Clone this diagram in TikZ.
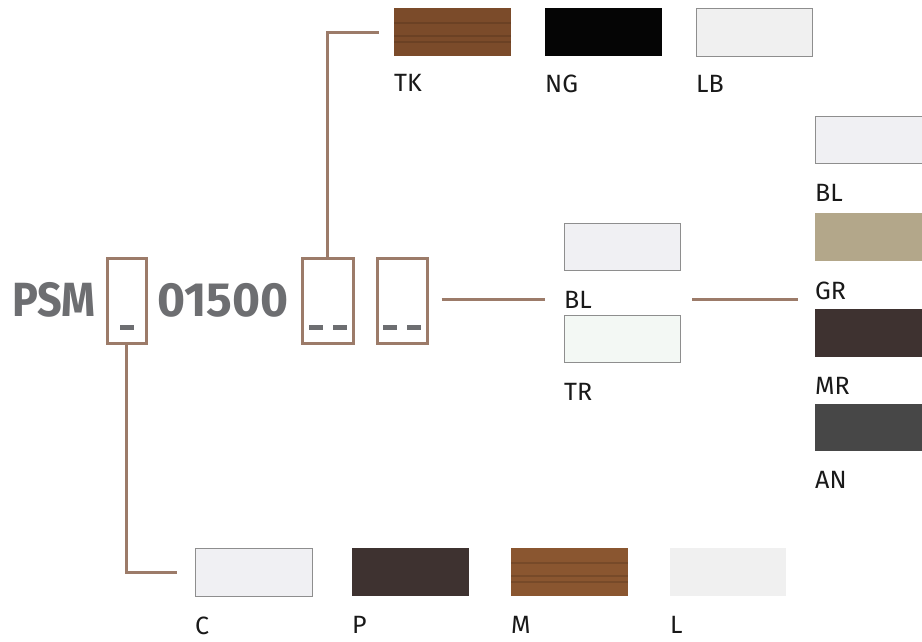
\documentclass[tikz,border=0pt]{standalone}
\usepackage{fontspec}
\setmainfont{Fira Sans}
\usepackage{xcolor}
\usetikzlibrary{positioning}

\definecolor{linkbrown}{HTML}{9C7B69}
\definecolor{codegray}{HTML}{6D6E71}
\definecolor{framegray}{HTML}{8E8E8E}
\definecolor{teak}{HTML}{7B4B2A}
\definecolor{nero}{HTML}{050505}
\definecolor{lightwhite}{HTML}{F0F0F0}
\definecolor{paleblue}{HTML}{F0F0F3}
\definecolor{palegreen}{HTML}{F3F8F4}
\definecolor{greige}{HTML}{B3A78A}
\definecolor{moro}{HTML}{3E3230}
\definecolor{anthracite}{HTML}{474747}
\definecolor{walnut}{HTML}{8A5630}

\begin{document}
\begin{tikzpicture}[x=1pt,y=-1pt,
    swatch/.style={minimum width=117pt,minimum height=48pt,inner sep=0pt,anchor=north west},
    framed/.style={draw=framegray,line width=1pt},
    tag/.style={font=\fontsize{25}{25}\selectfont,inner sep=0pt,text=black!90},
    code/.style={font=\fontsize{48}{48}\bfseries\selectfont,inner sep=0pt,text=codegray,anchor=base west},
    slot/.style={draw=linkbrown,line width=3pt,minimum height=85pt,inner sep=0pt},
    link/.style={draw=linkbrown,line width=3pt},
    grain/.style={line width=2pt,opacity=0.18}]
    \useasboundingbox (0,0) rectangle (922,641);

    % Article code
    \node[code] (psm) at (12,316) {\scalebox{0.9}[1]{PSM}};
    \node[code] (num) at (157,316) {01500};
    \node[slot,minimum width=39pt] (slot1) at (126.5,300.5) {};
    \node[slot,minimum width=51pt] (slot2) at (327.5,300.5) {};
    \node[slot,minimum width=50pt] (slot3) at (402,300.5) {};
    \fill[codegray] ([xshift=-7pt,yshift=15pt]slot1.south) rectangle ++(14pt,5pt);
    \foreach \s in {slot2,slot3} {
        \fill[codegray] ([xshift=-19pt,yshift=15pt]\s.south) rectangle ++(14pt,5pt);
        \fill[codegray] ([xshift=5pt,yshift=15pt]\s.south) rectangle ++(14pt,5pt);
    }

    % Top row
    \node[swatch,fill=teak] (tk) at (394,8) {};
    \node[swatch,fill=nero] (ng) at (545,8) {};
    \node[swatch,framed,fill=lightwhite,minimum width=116pt] (lb) at (696,8) {};
    \node[tag,below right=18pt and 0pt of tk.south west] (tklab) {TK};
    \node[tag,below right=18pt and 0pt of ng.south west] (nglab) {NG};
    \node[tag,below right=18pt and 0pt of lb.south west] (lblab) {LB};

    % Middle column
    \node[swatch,framed,fill=paleblue,minimum width=116pt,minimum height=47pt] (blm) at (564,223) {};
    \node[swatch,framed,fill=palegreen,minimum width=116pt,minimum height=47pt] (tr) at (564,315) {};
    \node[tag,below right=20pt and 0pt of blm.south west] (blmlab) {BL};
    \node[tag,below right=20pt and 0pt of tr.south west] (trlab) {TR};

    % Right column
    \node[swatch,framed,fill=paleblue,minimum height=47pt] (blr) at (815,116) {};
    \node[swatch,fill=greige] (gr) at (815,213) {};
    \node[swatch,fill=moro] (mr) at (815,309) {};
    \node[swatch,fill=anthracite,minimum height=47pt] (an) at (815,404) {};
    \node[tag,below right=20pt and 0pt of blr.south west] (blrlab) {BL};
    \node[tag,below right=20pt and 0pt of gr.south west] (grlab) {GR};
    \node[tag,below right=20pt and 0pt of mr.south west] (mrlab) {MR};
    \node[tag,below right=20pt and 0pt of an.south west] (anlab) {AN};

    % Bottom row
    \node[swatch,framed,fill=paleblue] (c) at (195,548) {};
    \node[swatch,fill=moro] (p) at (352,548) {};
    \node[swatch,fill=walnut] (m) at (511,548) {};
    \node[swatch,fill=lightwhite,minimum width=116pt] (l) at (670,548) {};
    \node[tag,below right=20pt and 0pt of c.south west] (clab) {C};
    \node[tag,below right=20pt and 0pt of p.south west] (plab) {P};
    \node[tag,below right=20pt and 0pt of m.south west] (mlab) {M};
    \node[tag,below right=20pt and 0pt of l.south west] (llab) {L};

    % Wood grain
    \foreach \w in {tk,m} {
        \foreach \g in {15,28,34} {
            \draw[grain,color=black!80!brown] ([yshift=-\g pt]\w.north west) -- ([yshift=-\g pt]\w.north east);
        }
    }

    % Connectors
    \coordinate (topin) at ([xshift=-15pt]tk.west);
    \coordinate (botin) at ([xshift=-18pt]c.west);
    \coordinate (midout) at ([xshift=13pt]slot3.east);
    \coordinate (midin) at ([xshift=-19pt]blmlab.west);
    \coordinate (rightout) at ([xshift=11pt]blm.east);
    \coordinate (rightin) at ([xshift=-17pt]grlab.west);
    \draw[link] (slot2.north) |- (topin);
    \draw[link] (slot1.south) |- (botin);
    \draw[link] (midout |- midin) -- (midin);
    \draw[link] (rightout |- midin) -- (rightin |- midin);
\end{tikzpicture}
\end{document}
